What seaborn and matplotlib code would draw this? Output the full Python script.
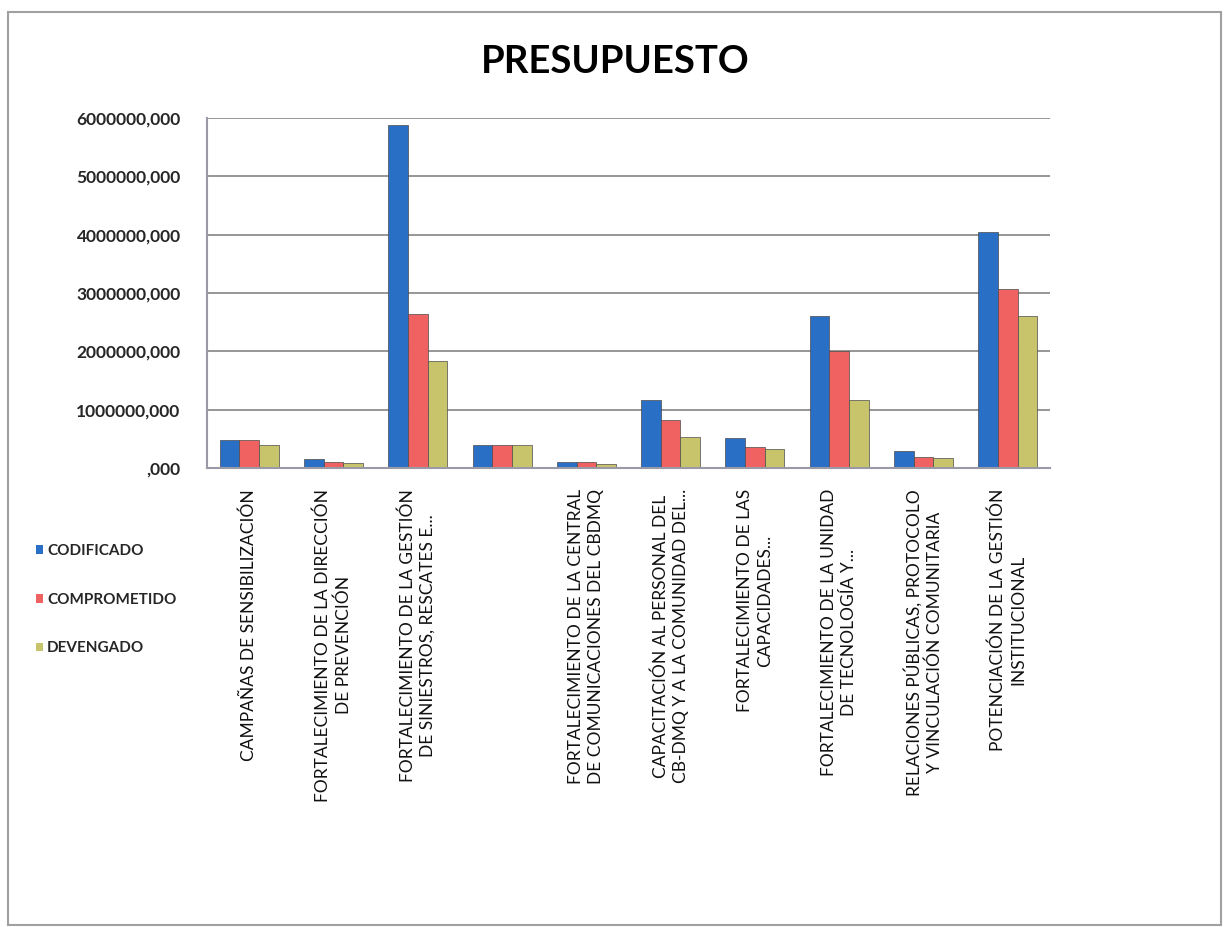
import matplotlib
matplotlib.use("Agg")
import matplotlib.pyplot as plt
from matplotlib.patches import Patch, Rectangle
from matplotlib.ticker import FuncFormatter, MultipleLocator
import seaborn as sns
import pandas as pd

categories = [
    "CAMPAÑAS DE SENSIBILIZACIÓN",
    "FORTALECIMIENTO DE LA DIRECCIÓN\nDE PREVENCIÓN",
    "FORTALECIMIENTO DE LA GESTIÓN\nDE SINIESTROS, RESCATES E...",
    "",
    "FORTALECIMIENTO DE LA CENTRAL\nDE COMUNICACIONES DEL CBDMQ",
    "CAPACITACIÓN AL PERSONAL DEL\nCB-DMQ Y A LA COMUNIDAD DEL...",
    "FORTALECIMIENTO DE LAS\nCAPACIDADES...",
    "FORTALECIMIENTO DE LA UNIDAD\nDE TECNOLOGÍA Y...",
    "RELACIONES PÚBLICAS, PROTOCOLO\nY VINCULACIÓN COMUNITARIA",
    "POTENCIACIÓN DE LA GESTIÓN\nINSTITUCIONAL",
]
series = ["CODIFICADO", "COMPROMETIDO", "DEVENGADO"]
codificado = [480000, 160000, 5880000, 400000, 100000, 1160000, 510000, 2600000, 290000, 4050000]
comprometido = [480000, 100000, 2640000, 400000, 100000, 820000, 360000, 2000000, 190000, 3070000]
devengado = [390000, 90000, 1840000, 400000, 70000, 540000, 330000, 1160000, 180000, 2600000]
colors = ["#2a6fc6", "#f06262", "#c8c46c"]

ids = [f"c{i}" for i in range(len(categories))]
df = pd.DataFrame({
    "cat": ids * 3,
    "serie": [s for s in series for _ in ids],
    "valor": codificado + comprometido + devengado,
})

sns.set_theme(style="white")
plt.rcParams["font.family"] = ["Lato", "DejaVu Sans"]

fig = plt.figure(figsize=(12.28, 9.27), dpi=100)
ax = fig.add_axes([207 / 1228, 1 - 468 / 927, (1050 - 207) / 1228, (468 - 118) / 927])

sns.barplot(data=df, x="cat", y="valor", hue="serie", order=ids, hue_order=series,
            palette=colors, width=0.7, ax=ax, legend=False, saturation=1,
            edgecolor="#4a4a4a", linewidth=0.5)

ax.set_ylim(0, 6000000)
ax.set_xlim(-0.5, len(ids) - 0.5)
ax.yaxis.set_major_locator(MultipleLocator(1000000))
ax.yaxis.set_major_formatter(FuncFormatter(lambda v, p: (f"{int(v)}" if v else "") + ",000"))
ax.grid(axis="y", color="#8e8e8e", linewidth=1.3)
ax.set_axisbelow(True)
ax.set_xlabel("")
ax.set_ylabel("")
for s in ["top", "right"]:
    ax.spines[s].set_visible(False)
for s in ["left", "bottom"]:
    ax.spines[s].set_color("#9a9aa6")
    ax.spines[s].set_linewidth(1.5)

ax.set_xticks(range(len(ids)))
ax.set_xticklabels(categories, rotation=90, ha="center", va="top", fontsize=12.5,
                   multialignment="center", linespacing=1.3, color="#111111")
ax.set_xticks([i - 0.5 for i in range(len(ids) + 1)], minor=True)
ax.tick_params(axis="x", which="major", length=0, pad=15)
ax.tick_params(axis="x", which="minor", length=7, color="#9a9aa6", width=1.5, direction="out")
ax.tick_params(axis="y", length=6, color="#9a9aa6", width=1.5, direction="out", pad=13,
               labelsize=12.5)
for t in ax.get_yticklabels():
    t.set_fontweight("bold")

fig.text(615 / 1228, 1 - 62 / 927, "PRESUPUESTO", ha="center", va="center",
         fontsize=27.5, fontweight="bold", color="#000000")

handles = [Patch(facecolor=c, edgecolor="none") for c in colors]
leg = fig.legend(handles, series, loc="upper left", bbox_to_anchor=(22 / 1228, 1 - 530 / 927),
                 frameon=False, handlelength=0.5, handleheight=0.5, handletextpad=0.25,
                 labelspacing=2.28, prop={"weight": "bold", "size": 11})

fig.patches.append(Rectangle((8 / 1228, 0.002), (1221 - 8) / 1228, 1 - 12 / 927 - 0.002,
                             transform=fig.transFigure, fill=False,
                             edgecolor="#a0a0a0", linewidth=1.5))

fig.savefig("out.png", dpi=100)
